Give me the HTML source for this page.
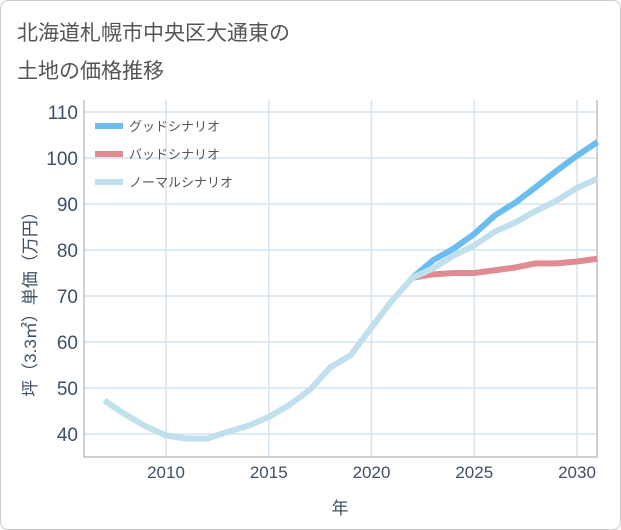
<!DOCTYPE html>
<html><head><meta charset="utf-8"><style>
body{margin:0;background:#fff;}
#wrap{position:relative;width:619px;height:528px;border:1px solid #ccc;border-radius:8px;background:#fff;overflow:hidden;font-family:"Liberation Sans","Noto Sans CJK JP",sans-serif;}
#title{position:absolute;left:16px;top:14px;font-size:21px;line-height:38px;color:#555;}
</style></head><body>
<div id="wrap">
<div id="title">北海道札幌市中央区大通東の<br>土地の価格推移</div>
<svg id="chart" width="621" height="530" style="position:absolute;left:-1px;top:-1px"></svg>
</div>
<script>
const years=[2007,2008,2009,2010,2011,2012,2013,2014,2015,2016,2017,2018,2019,2020,2021,2022,2023,2024,2025,2026,2027,2028,2029,2030,2031];
const normalVals=[47.3,44.3,41.7,39.7,39,39,40.5,41.8,43.7,46.3,49.6,54.5,57.2,63.2,69,74,76,78.8,81,84,86,88.5,90.7,93.5,95.5];
const goodYears=[2022,2023,2024,2025,2026,2027,2028,2029,2030,2031];
const goodVals=[74,77.8,80.3,83.5,87.5,90.3,93.7,97.2,100.5,103.5];
const badVals=[74,74.7,75,75,75.6,76.2,77.1,77.1,77.5,78.1];
const xTicks=[2010,2015,2020,2025,2030];
const yTicks=[40,50,60,70,80,90,100,110];
const legendLabels=["グッドシナリオ","バッドシナリオ","ノーマルシナリオ"];
const colors=["#6bbcf0","#e08a92","#bfe0ec"];

const NS="http://www.w3.org/2000/svg";
const svg=document.getElementById('chart');
const L=84,R=597,T=100,B=457;
function x(yr){return 166+(yr-2010)*20.55;}
function y(v){return 434-(v-40)*4.6;}
function mk(tag,attrs,parent){const e=document.createElementNS(NS,tag);for(const k in attrs)e.setAttribute(k,attrs[k]);(parent||svg).appendChild(e);return e;}
for(const t of yTicks){
  const g=mk('line',{x1:L,x2:R,y1:y(t),y2:y(t),stroke:'#d6e4ef','stroke-width':1.5});
  
  
  const tx=mk('text',{x:L-6,y:y(t)+7,'text-anchor':'end','font-size':19,fill:'#3d5068'});
  tx.textContent=t;
  
  
}
for(const t of xTicks){
  const g=mk('line',{x1:x(t),x2:x(t),y1:T,y2:B,stroke:'#d6e4ef','stroke-width':1.5});
  
  
  const tx=mk('text',{x:x(t),y:B+21,'text-anchor':'middle','font-size':17,fill:'#3d5068'});
  tx.textContent=t;
  
  
}
const frame=mk('path',{d:`M${L},${T}V${B}H${R}V${T}`,fill:'none',stroke:'#9aa4ad','stroke-width':1});


function line(xs,vs,c,name){
  const p=mk('polyline',{points:xs.map((yr,i)=>x(yr)+','+y(vs[i])).join(' '),fill:'none',stroke:c,'stroke-width':6,'stroke-linejoin':'round'});
  
  
}
line(goodYears,badVals,colors[1],'bad-scenario-line');
line(goodYears,goodVals,colors[0],'good-scenario-line');
line(years,normalVals,colors[2],'normal-scenario-line');
legendLabels.forEach((lab,i)=>{
  const ly=126+i*28;
  const s=mk('line',{x1:95,x2:123,y1:ly,y2:ly,stroke:colors[i],'stroke-width':6});
  
  
  const t=mk('text',{x:129,y:ly+5,'font-size':13,fill:'#555'});
  t.textContent=lab;
  
  
});
const yt=mk('text',{transform:'translate(36,300) rotate(-90)','text-anchor':'middle','font-size':17,fill:'#3d5068'});
yt.textContent='坪（3.3㎡）単価（万円）';


const xt=mk('text',{x:340,y:514,'text-anchor':'middle','font-size':17,fill:'#3d5068'});
xt.textContent='年';


</script>
</body></html>
